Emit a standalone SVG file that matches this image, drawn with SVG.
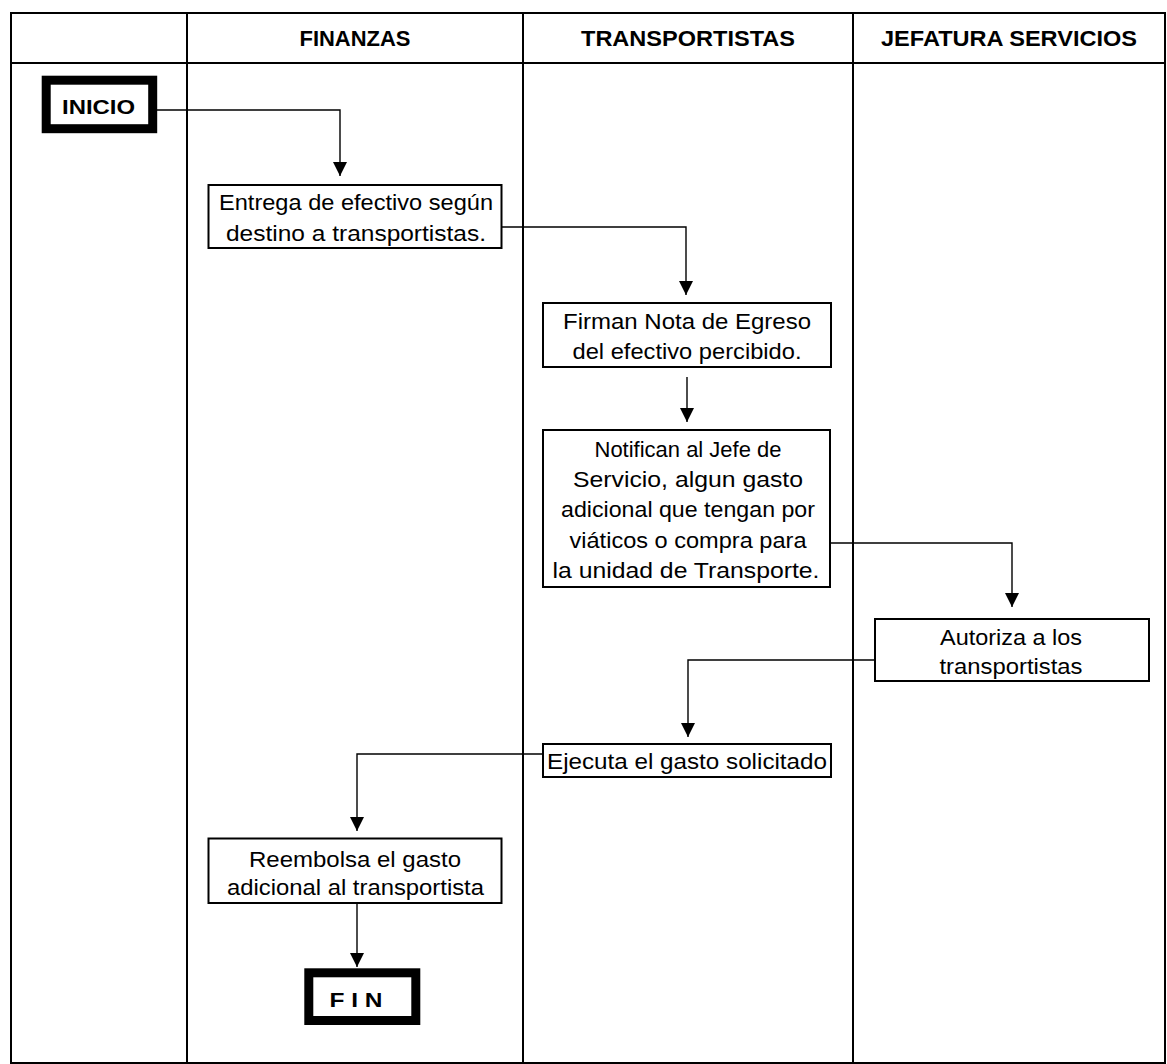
<svg xmlns="http://www.w3.org/2000/svg" width="1167" height="1064" viewBox="0 0 1167 1064">
<style>
.frame{fill:none;stroke:#000;stroke-width:2}
.box{fill:#fff;stroke:#000;stroke-width:2}
.term{fill:#fff;stroke:#000;stroke-width:9}
.hdr{font-family:"Liberation Sans",Arial,sans-serif;font-weight:bold;font-size:22px;text-anchor:middle;fill:#000}
.t{font-family:"Liberation Sans",Arial,sans-serif;font-size:22.5px;text-anchor:middle;fill:#000}
.tb{font-family:"Liberation Sans",Arial,sans-serif;font-weight:bold;font-size:21px;text-anchor:middle;fill:#000}
.c{fill:none;stroke:#000;stroke-width:1.4}
</style>
<defs>
<marker id="ah" markerUnits="userSpaceOnUse" markerWidth="14" markerHeight="14" refX="14" refY="7" orient="auto">
<path d="M0,0 L14,7 L0,14 z" fill="#000"/>
</marker>
</defs>
<rect width="1167" height="1064" fill="#fff"/>
<g id="lanes">
<rect class="frame" x="11" y="13" width="1154" height="1050"/>
<line class="frame" x1="11" y1="63" x2="1165" y2="63"/>
<line class="frame" x1="187" y1="13" x2="187" y2="1063"/>
<line class="frame" x1="523" y1="13" x2="523" y2="1063"/>
<line class="frame" x1="853" y1="13" x2="853" y2="1063"/>
<text class="hdr" x="355" y="46" textLength="111" lengthAdjust="spacingAndGlyphs">FINANZAS</text>
<text class="hdr" x="688" y="46" textLength="214" lengthAdjust="spacingAndGlyphs">TRANSPORTISTAS</text>
<text class="hdr" x="1009" y="46" textLength="256" lengthAdjust="spacingAndGlyphs">JEFATURA SERVICIOS</text>
</g>
<g id="connectors">
<path class="c" d="M157,110 H340 V176" marker-end="url(#ah)"/>
<path class="c" d="M502,227 H686 V295" marker-end="url(#ah)"/>
<path class="c" d="M687,377 V422" marker-end="url(#ah)"/>
<path class="c" d="M830,543 H1012 V607" marker-end="url(#ah)"/>
<path class="c" d="M875,660 H688 V737" marker-end="url(#ah)"/>
<path class="c" d="M543,754 H357 V831" marker-end="url(#ah)"/>
<path class="c" d="M357,903 V967" marker-end="url(#ah)"/>
</g>
<g id="inicio">
<rect class="term" x="46.2" y="80.2" width="106.5" height="48.5"/>
<text class="tb" x="98.5" y="114" font-size="22" textLength="73" lengthAdjust="spacingAndGlyphs">INICIO</text>
</g>
<g id="entrega">
<rect class="box" x="208.5" y="185" width="293" height="63"/>
<text class="t" x="356" y="210" textLength="274" lengthAdjust="spacingAndGlyphs">Entrega de efectivo según</text>
<text class="t" x="356" y="241" textLength="260" lengthAdjust="spacingAndGlyphs">destino a transportistas.</text>
</g>
<g id="firman">
<rect class="box" x="543" y="303" width="288" height="64"/>
<text class="t" x="687" y="329" textLength="248" lengthAdjust="spacingAndGlyphs">Firman Nota de Egreso</text>
<text class="t" x="687" y="359" textLength="229" lengthAdjust="spacingAndGlyphs">del efectivo percibido.</text>
</g>
<g id="notifican">
<rect class="box" x="543" y="430" width="287" height="157"/>
<text class="t" x="688" y="457" textLength="187" lengthAdjust="spacingAndGlyphs">Notifican al Jefe de</text>
<text class="t" x="688" y="487" textLength="230" lengthAdjust="spacingAndGlyphs">Servicio, algun gasto</text>
<text class="t" x="688" y="517" textLength="254" lengthAdjust="spacingAndGlyphs">adicional que tengan por</text>
<text class="t" x="688" y="548" textLength="237" lengthAdjust="spacingAndGlyphs">viáticos o compra para</text>
<text class="t" x="686" y="578" textLength="267" lengthAdjust="spacingAndGlyphs">la unidad de Transporte.</text>
</g>
<g id="autoriza">
<rect class="box" x="875" y="619" width="274" height="62"/>
<text class="t" x="1011" y="645" textLength="142" lengthAdjust="spacingAndGlyphs">Autoriza a los</text>
<text class="t" x="1011" y="674" textLength="143" lengthAdjust="spacingAndGlyphs">transportistas</text>
</g>
<g id="ejecuta">
<rect class="box" x="543" y="744" width="288" height="33"/>
<text class="t" x="547" y="769" style="text-anchor:start" textLength="280" lengthAdjust="spacingAndGlyphs">Ejecuta el gasto solicitado</text>
</g>
<g id="reembolsa">
<rect class="box" x="208.5" y="838.5" width="293" height="64.5"/>
<text class="t" x="355" y="866.5" textLength="212" lengthAdjust="spacingAndGlyphs">Reembolsa el gasto</text>
<text class="t" x="355.5" y="895" textLength="257" lengthAdjust="spacingAndGlyphs">adicional al transportista</text>
</g>
<g id="fin">
<rect class="term" x="308.8" y="972.8" width="107" height="47.7"/>
<text class="tb" x="356" y="1007" textLength="53" lengthAdjust="spacingAndGlyphs">F I N</text>
</g>
</svg>
